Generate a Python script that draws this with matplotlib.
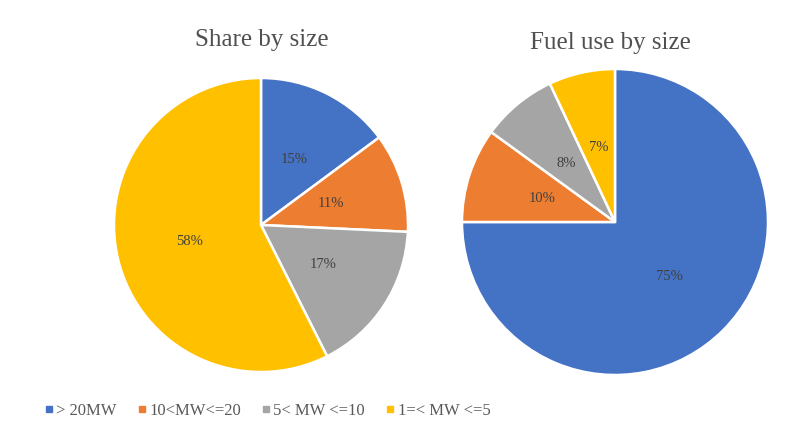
import matplotlib
matplotlib.use("Agg")
import matplotlib.pyplot as plt
from matplotlib.lines import Line2D

categories = ["> 20MW", "10<MW<=20", "5< MW <=10", "1=< MW <=5"]
share_values = [15, 11, 17, 58]
fuel_values = [75, 10, 8, 7]
colors = ["#4472C4", "#ED7D31", "#A5A5A5", "#FFC000"]

plt.rcParams['font.family'] = ['Liberation Serif', 'DejaVu Serif']

fig = plt.figure(figsize=(7.95, 4.34), dpi=100)
W, H = 795, 434

def draw(cx, cy, r, values, title, tx, ty):
    ax = fig.add_axes([(cx - r) / W, (H - cy - r) / H, 2 * r / W, 2 * r / H])
    wedges, texts = ax.pie(values, colors=colors, startangle=90, counterclock=False,
                           labels=[f"{v}%" for v in values], labeldistance=0.5,
                           wedgeprops=dict(edgecolor="white", linewidth=1.8),
                           textprops=dict(fontsize=10.5, color="#404040"))
    for t in texts:
        t.set_ha("center")
        t.set_va("center")
    ax.set_xlim(-1, 1)
    ax.set_ylim(-1, 1)
    ax.set_aspect("equal")
    fig.text(tx / W, 1 - ty / H, title, ha="center", va="center",
             fontsize=18, color="#505050")

draw(261, 225, 147, share_values, "Share by size", 262, 40)
draw(615, 222, 153, fuel_values, "Fuel use by size", 610, 43)

handles = [Line2D([], [], marker="s", linestyle="none", markersize=4,
                  markerfacecolor=c, markeredgecolor=c) for c in colors]
fig.legend(handles, categories, loc="center left", bbox_to_anchor=(27 / W, 1 - 411 / H),
           ncol=4, frameon=False, fontsize=12, handletextpad=0.05, columnspacing=1.1,
           handlelength=0.8, labelcolor="#595959")

fig.savefig("out.png", dpi=100, facecolor="white")
